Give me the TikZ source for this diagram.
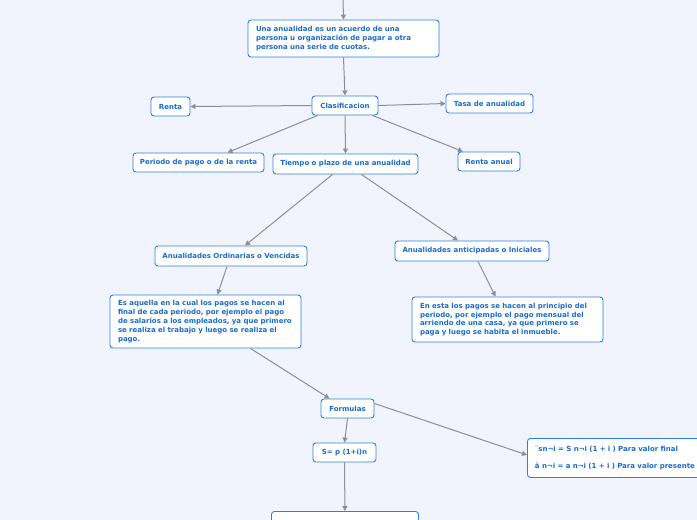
\documentclass[tikz,border=0pt]{standalone}
\usepackage{fontspec}
\setmainfont{DejaVu Sans}
\usetikzlibrary{arrows.meta}
\definecolor{bg}{HTML}{F1F4FD}
\definecolor{bord}{HTML}{2A80E2}
\definecolor{txt}{HTML}{1A6CD0}
\definecolor{arr}{HTML}{8E8E92}
\tikzset{
  box/.style={draw=bord, line width=0.9pt, fill=white, rounded corners=3pt,
    inner sep=0pt, font=\fontsize{7}{8.8}\selectfont\bfseries, text=txt},
  conn/.style={draw=arr, line width=1pt, -{Triangle[length=5pt,width=5pt]}},
}
\begin{document}
\begin{tikzpicture}[x=1pt,y=-1pt]
\fill[bg] (0,0) rectangle (697,520);
\clip (0,0) rectangle (697,520);
\useasboundingbox (0,0) rectangle (697,520);

\coordinate (top) at (343,-2);
\node[box, minimum width=191, minimum height=37, text width=175, align=left] (def) at (343.5,38.5)
  {Una anualidad es un acuerdo de una\\persona u organización de pagar a otra\\persona una serie de cuotas.};
\node[box, minimum width=66, minimum height=19] (clas) at (345,105.5) {Clasificacion};
\node[box, minimum width=39, minimum height=19] (renta) at (170.5,106.5) {Renta};
\node[box, minimum width=87, minimum height=19] (tasa) at (489.5,103.5) {Tasa de anualidad};
\node[box, minimum width=131, minimum height=19] (per) at (198.5,162.5) {Periodo de pago o de la renta};
\node[box, minimum width=145, minimum height=20] (tiempo) at (345.5,164) {Tiempo o plazo de una anualidad};
\node[box, minimum width=62, minimum height=19] (ranual) at (489,161.5) {Renta anual};
\node[box, minimum width=152, minimum height=20] (ord) at (231,256) {Anualidades Ordinarias o Vencidas};
\node[box, minimum width=154, minimum height=20] (ant) at (472,251) {Anualidades anticipadas o Iniciales};
\node[box, minimum width=191, minimum height=53, text width=175, align=left] (esa) at (205.5,321.5)
  {Es aquella en la cual los pagos se hacen al\\final de cada periodo, por ejemplo el pago\\de salarios a los empleados, ya que primero\\se realiza el trabajo y luego se realiza el\\pago.};
\node[box, minimum width=191, minimum height=45, text width=175, align=left] (ene) at (507.5,319.5)
  {En esta los pagos se hacen al principio del\\periodo, por ejemplo el pago mensual del\\arriendo de una casa, ya que primero se\\paga y luego se habita el inmueble.};
\node[box, minimum width=53, minimum height=19] (form) at (347.5,408.5) {Formulas};
\node[box, minimum width=63, minimum height=19] (sp) at (344.5,452.5) {S= p (1+i)n};
\node[box, minimum width=190, minimum height=39, anchor=north west, text width=175, align=left] (fb) at (527,438)
  {¨sn¬i = S n¬i (1 + i ) Para valor final\\[8pt]ä n¬i = a n¬i (1 + i ) Para valor presente};
\node[box, minimum width=147, minimum height=30, anchor=north west] (bot) at (271,511) {};

\draw[conn] (top) -- (def.north);
\draw[conn] (def.south) -- (clas.north);
\draw[conn] (clas.west) -- (renta.east);
\draw[conn] (clas.east) -- (tasa.west);
\draw[conn] (clas.south west) ++(6,0) -- ([xshift=29pt]per.north);
\draw[conn] (clas.south) -- (tiempo.north);
\draw[conn] ([xshift=-6pt]clas.south east) -- ([xshift=-26pt]ranual.north);
\draw[conn] ([xshift=-13pt]tiempo.south) -- ([xshift=14pt]ord.north);
\draw[conn] ([xshift=16pt]tiempo.south) -- ([xshift=-14pt]ant.north);
\draw[conn] ([xshift=-4pt]ord.south) -- ([xshift=12pt]esa.north);
\draw[conn] ([xshift=6pt]ant.south) -- ([xshift=-12pt]ene.north);
\draw[conn] ([xshift=45pt]esa.south) -- ([xshift=-18pt]form.north);
\draw[conn] ([yshift=5pt]form.east) -- ([yshift=3pt]fb.west);
\draw[conn] (form.south) -- (sp.north);
\draw[conn] (sp.south) -- (bot.north);
\end{tikzpicture}
\end{document}
